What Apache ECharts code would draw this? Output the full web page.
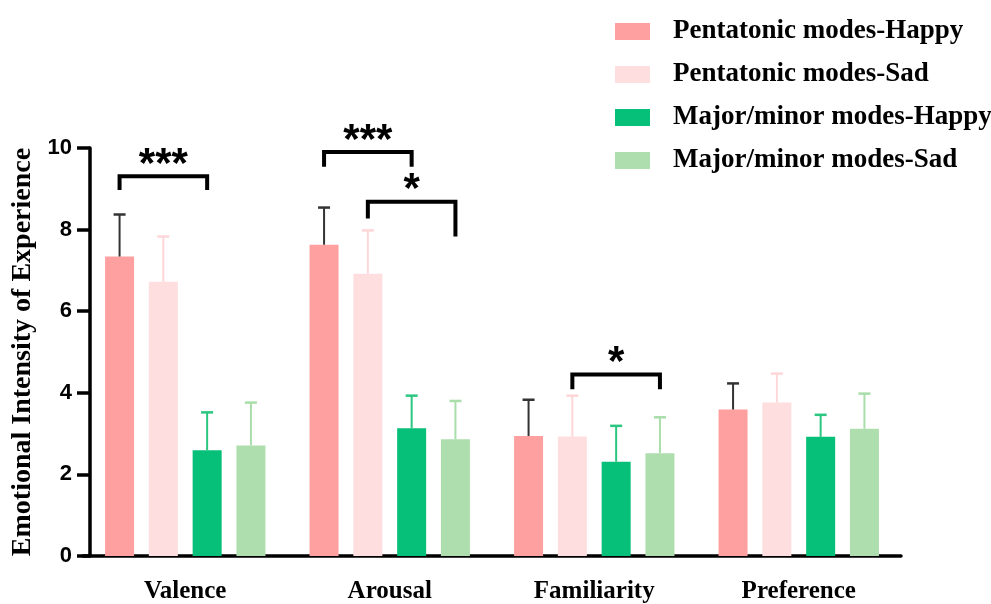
<!DOCTYPE html>
<html>
<head>
<meta charset="utf-8">
<script src="https://cdn.jsdelivr.net/npm/echarts@6/dist/echarts.min.js"></script>
<style>html,body{margin:0;padding:0;background:#fff;}#main{width:991px;height:604px;}</style>
</head>
<body>
<div id="main"></div>
<script>
const categories = ['Valence', 'Arousal', 'Familiarity', 'Preference'];
const seriesNames = ['Pentatonic modes-Happy', 'Pentatonic modes-Sad', 'Major/minor modes-Happy', 'Major/minor modes-Sad'];
const pentHappyMean = [7.34, 7.63, 2.94, 3.59];
const pentHappySD   = [1.03, 0.91, 0.89, 0.64];
const pentSadMean   = [6.72, 6.92, 2.93, 3.76];
const pentSadSD     = [1.11, 1.06, 1.00, 0.71];
const majHappyMean  = [2.59, 3.13, 2.31, 2.92];
const majHappySD    = [0.93, 0.80, 0.88, 0.54];
const majSadMean    = [2.71, 2.86, 2.52, 3.12];
const majSadSD      = [1.05, 0.94, 0.88, 0.86];
const yTicks = { min: 0, max: 10, interval: 2 };
// [categoryIndex, fromBar, toBar, yTop, yLeftEnd, yRightEnd, label]
const brackets = [
  [0, 0, 2, 9.31, 8.97, 8.97, '***'],
  [1, 0, 2, 9.90, 9.54, 9.54, '***'],
  [1, 1, 3, 8.68, 8.27, 7.83, '*'],
  [2, 1, 3, 4.45, 4.09, 4.09, '*']
];

const means = [pentHappyMean, pentSadMean, majHappyMean, majSadMean];
const sds = [pentHappySD, pentSadSD, majHappySD, majSadSD];
const barColors = ['#FFA0A0', '#FFDEDF', '#06BF78', '#AEDEAE'];
const errColors = ['#333333', '#FFD6D8', '#2BC67F', '#A9DDA9'];

const BAR_W = 29;
const BAR_GAP = 0.51;
const STEP = BAR_W * (1 + BAR_GAP);
function barOffset(i) { return (i - 1.5) * STEP; }

const serif = '"Liberation Serif", "Times New Roman", serif';
const sans = '"Liberation Sans", Arial, sans-serif';

const series = [];
means.forEach((m, i) => {
  series.push({
    name: seriesNames[i],
    type: 'bar',
    data: m,
    barWidth: BAR_W,
    barGap: (BAR_GAP * 100) + '%',
    itemStyle: { color: barColors[i] },
    z: 2
  });
});
means.forEach((m, i) => {
  series.push({
    type: 'custom',
    name: 'err' + i,
    z: 3,
    silent: true,
    data: m.map((v, k) => [k, v, v + sds[i][k]]),
    renderItem: function (params, api) {
      const base = api.coord([api.value(0), api.value(1)]);
      const top = api.coord([api.value(0), api.value(2)]);
      const x = base[0] + barOffset(i);
      const cap = 6;
      return {
        type: 'group',
        children: [
          { type: 'line', shape: { x1: x, y1: base[1], x2: x, y2: top[1] }, style: { stroke: errColors[i], lineWidth: 2 } },
          { type: 'line', shape: { x1: x - cap, y1: top[1], x2: x + cap, y2: top[1] }, style: { stroke: errColors[i], lineWidth: 2.5 } }
        ]
      };
    }
  });
});
series.push({
  type: 'custom',
  name: 'sig',
  z: 4,
  silent: true,
  clip: false,
  data: brackets,
  renderItem: function (params, api) {
    const cat = api.value(0);
    const b = brackets[params.dataIndex];
    const c = api.coord([cat, b[3]]);
    const yl = api.coord([cat, b[4]])[1];
    const yr = api.coord([cat, b[5]])[1];
    const x1 = c[0] + barOffset(b[1]);
    const x2 = c[0] + barOffset(b[2]);
    return {
      type: 'group',
      children: [
        { type: 'polyline', shape: { points: [[x1, yl], [x1, c[1]], [x2, c[1]], [x2, yr]] },
          style: { stroke: '#000', lineWidth: 4, fill: null, lineJoin: 'miter' } },
        { type: 'text', style: { text: b[6], x: (x1 + x2) / 2, y: c[1] - 11, align: 'center', verticalAlign: 'middle',
          font: 'bold 42px ' + sans, fill: '#000' } }
      ]
    };
  }
});

const chart = echarts.init(document.getElementById('main'));
chart.setOption({
  animation: false,
  backgroundColor: '#fff',
  legend: {
    data: seriesNames,
    orient: 'vertical',
    left: 610,
    top: 13,
    itemWidth: 35,
    itemHeight: 17,
    itemGap: 16,
    icon: 'rect',
    textStyle: { fontFamily: serif, fontWeight: 'bold', fontSize: 27, color: '#000', padding: [0, 0, 0, 18] }
  },
  grid: { left: 83, right: 90, top: 148, bottom: 46, containLabel: false },
  xAxis: {
    type: 'category',
    data: categories,
    axisLine: { lineStyle: { color: '#000', width: 3.5 } },
    axisTick: { alignWithLabel: true, length: 12, lineStyle: { color: '#000', width: 3.5 } },
    axisLabel: { margin: 23, color: '#000', fontFamily: serif, fontWeight: 'bold', fontSize: 25 }
  },
  yAxis: {
    type: 'value',
    min: yTicks.min, max: yTicks.max, interval: yTicks.interval,
    offset: -7,
    name: 'Emotional Intensity of Experience',
    nameLocation: 'middle',
    nameGap: 52,
    nameTextStyle: { fontFamily: serif, fontWeight: 'bold', fontSize: 28, color: '#000' },
    splitLine: { show: false },
    axisLine: { show: true, lineStyle: { color: '#000', width: 3.5 } },
    axisTick: { show: true, length: 13, lineStyle: { color: '#000', width: 3.5 } },
    axisLabel: { margin: 18, color: '#000', fontFamily: sans, fontWeight: 'bold', fontSize: 22 }
  },
  series: series
});
</script>
</body>
</html>
